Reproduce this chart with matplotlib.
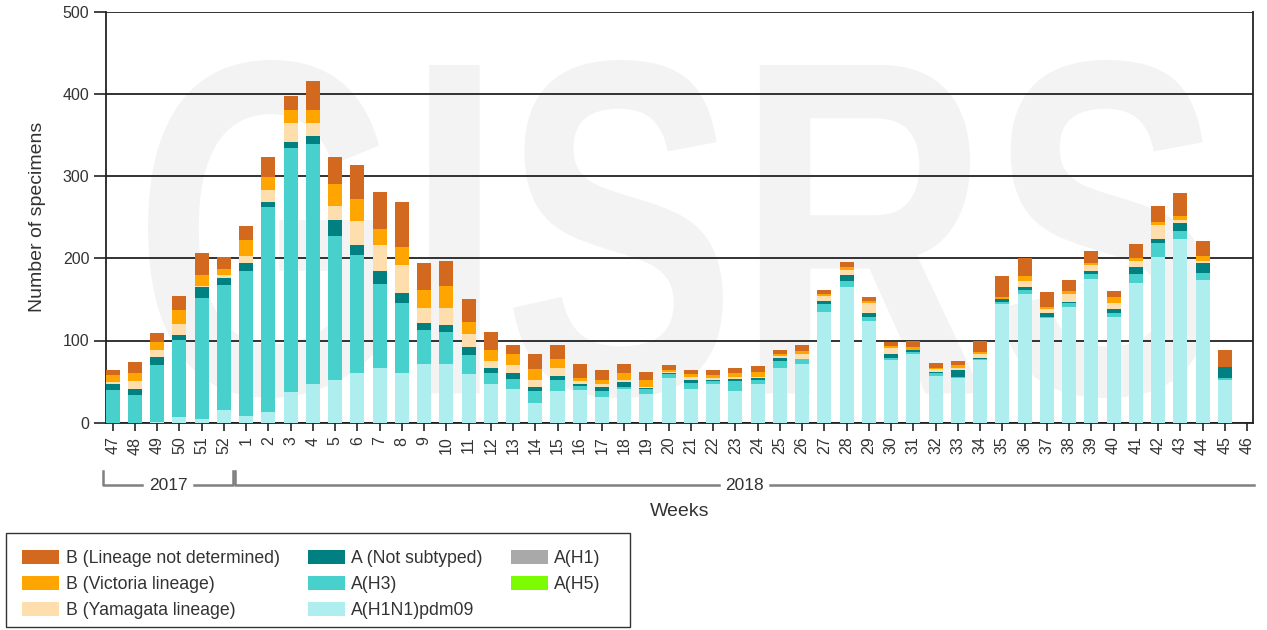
import matplotlib
matplotlib.use("Agg")
import matplotlib.pyplot as plt
import matplotlib.transforms as mtransforms
from matplotlib.patches import Patch, PathPatch, Rectangle
from matplotlib.textpath import TextPath
from matplotlib.font_manager import FontProperties
import numpy as np

plt.rcParams['font.family'] = ['Liberation Sans', 'DejaVu Sans']

# ---------------- data ----------------
weeks = ['47', '48', '49', '50', '51', '52'] + [str(i) for i in range(1, 47)]
years = ['2017'] * 6 + ['2018'] * 46

a_h1n1pdm09 = [0, 0, 1, 7, 4, 15, 8, 13, 37, 47, 52, 60, 67, 60, 71, 72, 59, 47, 41, 24,
               39, 40, 31, 41, 35, 54, 41, 47, 38, 47, 67, 71, 135, 165, 124, 76, 84, 57, 54, 76,
               145, 157, 127, 141, 175, 128, 170, 202, 223, 173, 52, 0]
a_h3 = [40, 34, 69, 94, 148, 152, 176, 249, 297, 292, 175, 144, 102, 86, 42, 38, 23, 14, 12, 15,
        13, 5, 8, 3, 6, 5, 7, 4, 13, 5, 8, 6, 9, 7, 4, 3, 2, 3, 1, 2,
        2, 5, 2, 5, 6, 6, 11, 17, 10, 9, 2, 0]
a_not_subtyped = [7, 7, 10, 6, 13, 9, 10, 7, 8, 10, 19, 12, 15, 12, 8, 9, 10, 6, 8, 5,
                  5, 2, 5, 5, 1, 1, 4, 1, 2, 2, 4, 1, 4, 8, 5, 5, 2, 2, 9, 1,
                  3, 3, 5, 1, 3, 4, 9, 5, 10, 12, 14, 0]
a_h1 = [0] * 52
a_h5 = [0] * 52
b_yamagata = [3, 10, 9, 13, 1, 4, 9, 14, 23, 15, 18, 29, 32, 34, 18, 21, 16, 8, 9, 8,
              10, 4, 3, 3, 2, 2, 3, 2, 3, 2, 2, 6, 6, 6, 13, 7, 1, 3, 2, 5,
              1, 7, 4, 9, 8, 8, 7, 16, 4, 3, 0, 0]
b_victoria = [8, 10, 9, 17, 14, 7, 19, 16, 16, 16, 26, 27, 20, 22, 22, 26, 14, 14, 14, 13,
              11, 3, 5, 8, 8, 2, 4, 4, 4, 6, 3, 3, 2, 3, 2, 2, 3, 2, 4, 2,
              2, 6, 3, 4, 2, 7, 3, 4, 5, 6, 0, 0]
b_not_determined = [6, 13, 11, 17, 26, 15, 17, 24, 17, 36, 33, 41, 45, 55, 33, 31, 28, 21, 11, 18,
                    16, 17, 12, 12, 10, 6, 5, 6, 7, 7, 5, 8, 5, 6, 5, 5, 7, 6, 5, 13,
                    26, 22, 18, 13, 15, 7, 17, 20, 27, 18, 21, 0]

series = [
    ('A(H1N1)pdm09', a_h1n1pdm09, '#afeeee'),
    ('A(H3)', a_h3, '#48d1cc'),
    ('A (Not subtyped)', a_not_subtyped, '#008080'),
    ('A(H1)', a_h1, '#a9a9a9'),
    ('A(H5)', a_h5, '#7cfc00'),
    ('B (Yamagata lineage)', b_yamagata, '#ffdead'),
    ('B (Victoria lineage)', b_victoria, '#ffa500'),
    ('B (Lineage not determined)', b_not_determined, '#d2691e'),
]
legend_order = ['B (Lineage not determined)', 'B (Victoria lineage)', 'B (Yamagata lineage)',
                'A (Not subtyped)', 'A(H3)', 'A(H1N1)pdm09', 'A(H1)', 'A(H5)']

# ---------------- figure ----------------
W, H = 1267, 630
fig = plt.figure(figsize=(W / 100, H / 100), dpi=100)
ax = fig.add_axes([106 / W, 1 - 422.7 / H, (1253 - 106) / W, (422.7 - 11.7) / H])

# watermark (logo-like background lettering), drawn as a path
tp = TextPath((0, 0), 'GISRS', size=100,
              prop=FontProperties(family='Liberation Sans', weight='bold'))
bb = tp.get_extents()
wx0, wx1, wy_top, wy_bot = 148, 1209, 60, 398   # pixel box of the watermark
sx = (wx1 - wx0) / bb.width
sy = (wy_bot - wy_top) / bb.height
wm_tr = (mtransforms.Affine2D().translate(-bb.x0, -bb.y0).scale(sx, sy)
         .translate(wx0, H - wy_bot).scale(1 / W, 1 / H)) + fig.transFigure
ax.add_patch(PathPatch(tp, transform=wm_tr, facecolor='#f3f3f3', edgecolor='none',
                       zorder=0.1, clip_on=False))

x = np.arange(len(weeks))
bottom = np.zeros(len(weeks))
colors = {}
for name, vals, col in series:
    v = np.array(vals, dtype=float)
    ax.bar(x, v, bottom=bottom, width=0.63, color=col, zorder=3, linewidth=0)
    bottom += v
    colors[name] = col

ax.set_ylim(0, 500)
ax.set_xlim(-0.3, len(weeks) - 1 + 0.27)
ax.set_yticks(np.arange(0, 501, 100))
ax.yaxis.grid(True, color='#222222', linewidth=1.3, zorder=1)
ax.set_axisbelow(True)
for s in ['left', 'bottom', 'right']:
    ax.spines[s].set_color('#222222')
    ax.spines[s].set_linewidth(1.3)
ax.spines['top'].set_visible(False)

ax.set_xticks(x)
ax.set_xticklabels(weeks, rotation=90, fontsize=11.5, color='#333333')
ax.tick_params(axis='x', length=6, width=1.2, color='#222222', pad=4)
ax.tick_params(axis='y', length=9, width=1.2, color='#222222', labelsize=11.5,
               labelcolor='#333333', pad=3)
ax.set_ylabel('Number of specimens', fontsize=14, color='#333333', labelpad=12)

# year brackets
trans = mtransforms.blended_transform_factory(ax.transData, fig.transFigure)
y_top = 1 - 471 / H
y_line = 1 - 485 / H
gray = '#808080'
for yr in ['2017', '2018']:
    idx = [i for i, y in enumerate(years) if y == yr]
    x0 = idx[0] - 0.42 if yr == '2017' else idx[0] - 0.5
    x1 = idx[-1] + 0.39 if yr == '2017' else idx[-1] + 0.3
    xm = (x0 + x1) / 2
    half = 1.15
    ax.plot([x0, x0, xm - half], [y_top, y_line, y_line], color=gray, lw=1.8,
            transform=trans, clip_on=False)
    if yr == '2017':
        ax.plot([xm + half, x1, x1], [y_line, y_line, y_top], color=gray, lw=1.8,
                transform=trans, clip_on=False)
    else:
        ax.plot([xm + half, x1], [y_line, y_line], color=gray, lw=1.8,
                transform=trans, clip_on=False)
    ax.text(xm, y_line, yr, transform=trans, ha='center', va='center',
            fontsize=12.5, color='#333333')

fig.text(680 / W, 1 - 511 / H, 'Weeks', ha='center', va='center', fontsize=14, color='#333333')

# legend box + legend
fig.patches.append(Rectangle((6 / W, 1 - 627 / H), (630 - 6) / W, (627 - 533) / H,
                             transform=fig.transFigure, facecolor='white',
                             edgecolor='#333333', linewidth=1.0, zorder=0))
handles = [Patch(facecolor=colors[n], edgecolor='none', label=n) for n in legend_order]
leg = fig.legend(handles=handles, loc='upper left', bbox_to_anchor=(10 / W, 1 - 538 / H),
                 ncol=3, fontsize=12.7, frameon=False,
                 handlelength=2.1, handleheight=0.85, handletextpad=0.35,
                 columnspacing=1.6, labelspacing=0.5, borderpad=0.7, borderaxespad=0)
for t in leg.get_texts():
    t.set_color('#333333')

fig.savefig('out.png', dpi=100)
